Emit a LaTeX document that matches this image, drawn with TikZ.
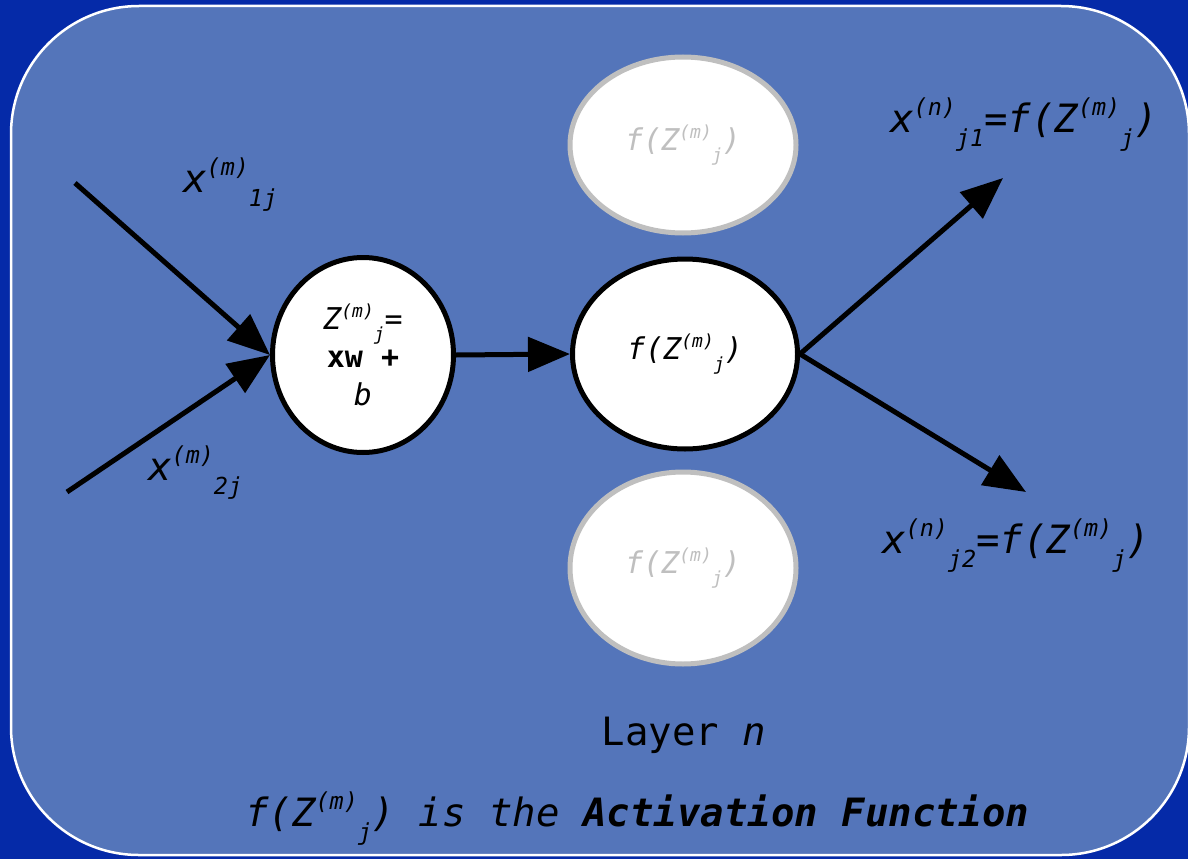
\documentclass[tikz,border=0pt]{standalone}
\usepackage{fontspec}
\setmainfont{DejaVu Sans Mono}
\usepackage{graphicx}
\usetikzlibrary{arrows.meta,shapes.geometric}
\definecolor{outerbg}{HTML}{052AA8}
\definecolor{panel}{HTML}{5475BA}
\definecolor{ghost}{HTML}{BFBFBF}
\newcommand\sps[1]{\raisebox{0.42em}{\scalebox{0.6}{#1}}}
\newcommand\sbs[1]{\raisebox{-0.36em}{\scalebox{0.6}{#1}}}
\tikzset{
  neuron/.style={ellipse, draw=black, line width=5pt, fill=white, inner sep=0pt, align=center,
    font=\fontsize{30}{38}\selectfont},
  ghostnode/.style={ellipse, draw=ghost, line width=5pt, fill=white, inner sep=0pt, align=center,
    text=ghost, font=\fontsize{30}{38}\selectfont},
  conn/.style={line width=5pt, -{Triangle[length=42pt,width=34pt]}},
  lbl/.style={inner sep=0pt, anchor=base west, font=\fontsize{39}{46}\selectfont}
}
\begin{document}
\begin{tikzpicture}[x=1pt,y=-1pt]
\useasboundingbox (0,0) rectangle (1188,859);
\fill[outerbg] (0,0) rectangle (1188,859);
\draw[white, line width=2.5pt, fill=panel, rounded corners=128pt] (11,6) rectangle (1189,855);

\node[neuron, minimum width=181pt, minimum height=195pt] (zn) at (363,355)
  {\itshape Z\sps{(m)}\sbs{j}\upshape=\\ \bfseries xw +\\ \mdseries\itshape b};
\node[neuron, minimum width=225pt, minimum height=190pt] (fn) at (685,354)
  {\itshape f(Z\sps{(m)}\sbs{j})};
\node[ghostnode, minimum width=226pt, minimum height=176pt] (g1) at (683,145)
  {\itshape f(Z\sps{(m)}\sbs{j})};
\node[ghostnode, minimum width=226pt, minimum height=192pt] (g2) at (683,568)
  {\itshape f(Z\sps{(m)}\sbs{j})};

\coordinate (i1) at (75,183);
\coordinate (i2) at (67,492);
\coordinate (o1) at (1003,178);
\coordinate (o2) at (1026,492);

\draw[conn, line cap=butt] (i1) -- (zn.west);
\draw[conn] (i2) -- (zn.west);
\draw[conn] (zn.east) -- (fn.west);
\draw[conn] (fn.east) -- (o1);
\draw[conn] (fn.east) -- (o2);

\node[lbl] (l1) at (183,192) {\itshape x\sps{(m)}\sbs{1j}};
\node[lbl] (l2) at (148,480) {\itshape x\sps{(m)}\sbs{2j}};
\node[lbl] (r1) at (890,132) {\itshape x\sps{(n)}\sbs{j1}\upshape=\itshape f(Z\sps{(m)}\sbs{j})};
\node[lbl] (r2) at (882,553) {\itshape x\sps{(n)}\sbs{j2}\upshape=\itshape f(Z\sps{(m)}\sbs{j})};
\node[lbl, anchor=base] (layer) at (684,745) {Layer \itshape n};
\node[lbl] (cap) at (245,826) {\itshape f(Z\sps{(m)}\sbs{j}) is the \bfseries Activation Function};
\end{tikzpicture}
\end{document}
